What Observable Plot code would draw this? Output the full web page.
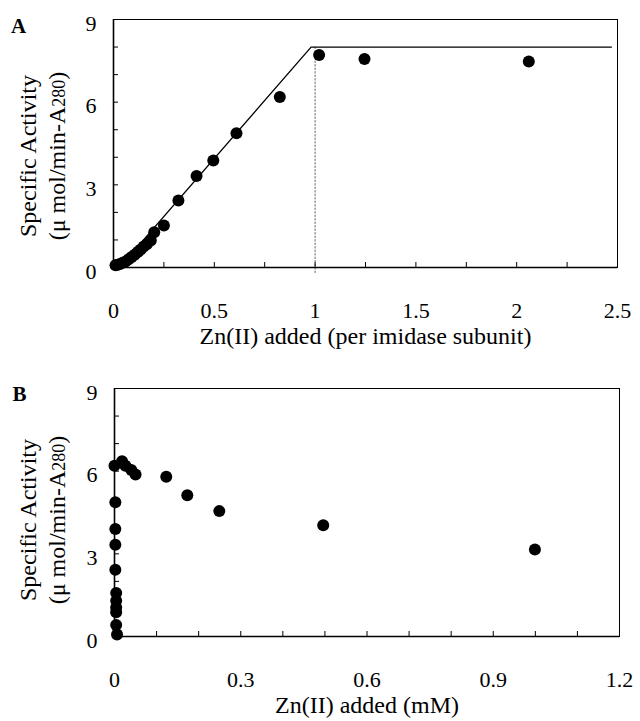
<!DOCTYPE html>
<html>
<head>
<meta charset="utf-8">
<script src="https://cdn.jsdelivr.net/npm/d3@7"></script>
<script src="https://cdn.jsdelivr.net/npm/@observablehq/plot@0.6"></script>
<style>
  body { margin: 0; background: #fff; }
  #wrap { position: relative; width: 640px; height: 721px; font-family: "Liberation Serif", "Times New Roman", serif; color: #000; }
  .panel { position: absolute; left: 0; }
  .ylab { position: absolute; width: 260px; height: 60px; transform: rotate(-90deg); transform-origin: center;
          white-space: nowrap; text-align: center; font-size: 24px; line-height: 29px; }
  .ylab .sub { font-size: 18px; }
</style>
</head>
<body>
<div id="wrap">
  <div id="pa" class="panel" style="top:0"></div>
  <div id="pb" class="panel" style="top:365px"></div>
  <div class="ylab" style="left:-86px; top:126px;">Specific Activity<br>(μ mol/min-A<span class="sub">280</span>)</div>
  <div class="ylab" style="left:-86px; top:490px;">Specific Activity<br>(μ mol/min-A<span class="sub">280</span>)</div>
</div>
<script>
// ---------- Panel A data ----------
const zincPerSubunitA = [0.01, 0.02, 0.03, 0.045, 0.06, 0.075, 0.09, 0.105, 0.12, 0.135, 0.15, 0.165, 0.185, 0.202, 0.25, 0.322, 0.412, 0.495, 0.61, 0.825, 1.02, 1.245, 2.06];
const activityA       = [0.08, 0.10, 0.12, 0.17, 0.22, 0.30, 0.38, 0.46, 0.56, 0.65, 0.76, 0.84, 0.98, 1.28, 1.52, 2.43, 3.32, 3.88, 4.87, 6.19, 7.71, 7.57, 7.48];
const fitLineX = [0.03, 0.98, 2.47];
const fitLineY = [0, 8.0, 8.0];
const dottedX = [1.0, 1.0];
const dottedY = [8.0, -0.25];
const xTicksA = [0, 0.5, 1, 1.5, 2, 2.5];
const xMinorA = [0.25, 0.5, 0.75, 1, 1.25, 1.5, 1.75, 2, 2.25];
const yTicks = [0, 3, 6, 9];
const yMinor = [1, 2, 3, 4, 5, 6, 7, 8];

// ---------- Panel B data ----------
const zincMM_B   = [0, 0.002, 0.002, 0.002, 0.002, 0.004, 0.004, 0.004, 0.004, 0.004, 0.006, 0.018, 0.026, 0.04, 0.05, 0.123, 0.173, 0.249, 0.496, 0.999];
const activityB  = [6.2, 4.87, 3.9, 3.33, 2.42, 1.58, 1.3, 1.05, 0.88, 0.42, 0.07, 6.36, 6.2, 6.04, 5.88, 5.80, 5.13, 4.55, 4.04, 3.16];
const xTicksB = [0, 0.3, 0.6, 0.9, 1.2];
const xMinorB = [0.1, 0.2, 0.3, 0.4, 0.5, 0.6, 0.7, 0.8, 0.9, 1.0, 1.1];

const ptsA = zincPerSubunitA.map((x, i) => ({x, y: activityA[i]}));
const fitA = fitLineX.map((x, i) => ({x, y: fitLineY[i]}));
const dotA = dottedX.map((x, i) => ({x, y: dottedY[i]}));
const ptsB = zincMM_B.map((x, i) => ({x, y: activityB[i]}));

const fmt = d => String(d);
const font = "Liberation Serif, Times New Roman, serif";

function commonMarks(xTicks, xMinor, xTitle, panelLetter, letterDy) {
  return [
    Plot.frame({stroke: "black", strokeWidth: 1}),
    Plot.ruleY([0], {stroke: "black", strokeWidth: 1.6}),
    Plot.ruleX([0], {stroke: "black", strokeWidth: 1.6}),
    Plot.axisX({ticks: xTicks, tickSize: 0, tickPadding: 35, tickFormat: fmt, label: null, fontSize: 22}),
    Plot.axisX({ticks: xMinor, tickSize: -5, tickFormat: () => "", label: null}),
    Plot.axisY({ticks: yTicks, tickSize: 0, tickPadding: 17, dy: 4, tickFormat: fmt, label: null, fontSize: 22}),
    Plot.axisY({ticks: yMinor, tickSize: -5, tickFormat: () => "", label: null}),
    Plot.text([xTitle], {text: d => d, frameAnchor: "bottom", dy: 76, fontSize: 24}),
    Plot.text([panelLetter], {text: d => d, frameAnchor: "top-left", textAnchor: "middle", lineAnchor: "middle",
      dx: -95, dy: letterDy, fontSize: 21, fontWeight: "bold"})
  ];
}

const plotA = Plot.plot({
  width: 640, height: 365,
  marginTop: 19, marginBottom: 98, marginLeft: 113, marginRight: 23,
  style: {fontFamily: font, fontSize: "22px", background: "white", color: "black", overflow: "visible"},
  x: {domain: [0, 2.5]},
  y: {domain: [0, 9]},
  marks: [
    Plot.line(dotA, {x: "x", y: "y", stroke: "#666", strokeWidth: 1, strokeDasharray: "1.5,2"}),
    Plot.line(fitA, {x: "x", y: "y", stroke: "black", strokeWidth: 1.3}),
    ...commonMarks(xTicksA, xMinorA, "Zn(II) added (per imidase subunit)", "A", 7),
    Plot.dot(ptsA, {x: "x", y: "y", r: 6, fill: "black", stroke: "none"})
  ]
});
document.getElementById("pa").appendChild(plotA);

const plotB = Plot.plot({
  width: 640, height: 356,
  marginTop: 23, marginBottom: 85, marginLeft: 114, marginRight: 21,
  style: {fontFamily: font, fontSize: "22px", background: "white", color: "black", overflow: "visible"},
  x: {domain: [0, 1.2]},
  y: {domain: [0, 9]},
  marks: [
    ...commonMarks(xTicksB, xMinorB, "Zn(II) added (mM)", "B", 6),
    Plot.dot(ptsB, {x: "x", y: "y", r: 6, fill: "black", stroke: "none"})
  ]
});
document.getElementById("pb").appendChild(plotB);
</script>
</body>
</html>
